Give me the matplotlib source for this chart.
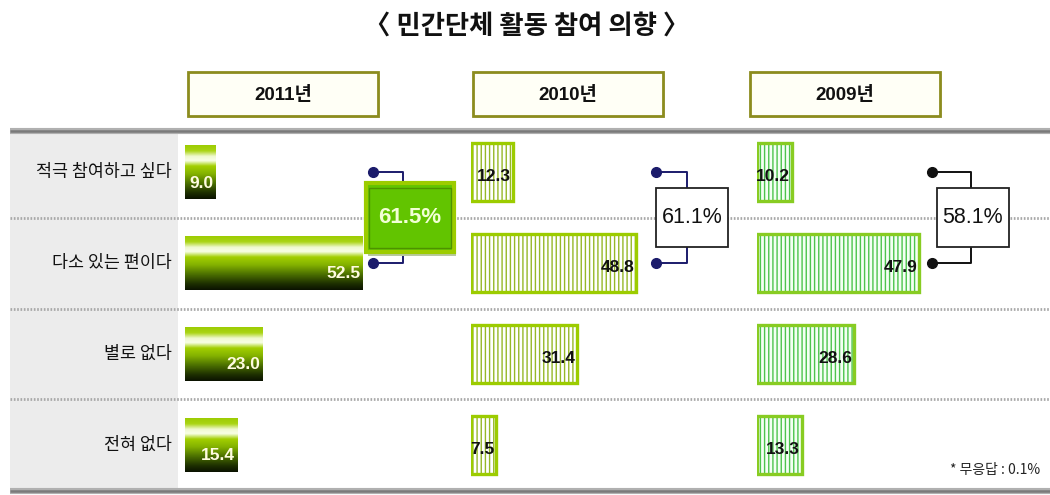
import matplotlib
matplotlib.use('Agg')
import matplotlib.pyplot as plt
import numpy as np
from matplotlib.patches import Rectangle
from matplotlib import transforms
from matplotlib.colors import LinearSegmentedColormap

# ---------------- data ----------------
categories = ['적극 참여하고 싶다', '다소 있는 편이다', '별로 없다', '전혀 없다']
years = ['2011년', '2010년', '2009년']
values_2011 = [9.0, 52.5, 23.0, 15.4]
values_2010 = [12.3, 48.8, 31.4, 7.5]
values_2009 = [10.2, 47.9, 28.6, 13.3]
positive_totals = [61.5, 61.1, 58.1]
title_text = '〈 민간단체 활동 참여 의향 〉'
footnote_text = '* 무응답 : 0.1%'

# ---------------- layout ----------------
W, H = 1050, 495
fig = plt.figure(figsize=(W / 100, H / 100), dpi=100)
fig.patch.set_facecolor('white')
plt.rcParams['hatch.linewidth'] = 1.0

KR = ['Noto Sans CJK KR', 'DejaVu Sans']
NUM = ['Liberation Sans', 'DejaVu Sans']
HDR = ['Liberation Sans', 'Noto Sans CJK KR', 'DejaVu Sans']

# background / decoration layer in pixel coordinates
bg = fig.add_axes([0, 0, 1, 1])
bg.set_xlim(0, W)
bg.set_ylim(H, 0)
bg.axis('off')
bg.add_patch(Rectangle((10, 133), 168, 357, facecolor='#ececec', edgecolor='none', zorder=0))
for yl in (130.5, 490.5):
    bg.plot([10, W], [yl, yl], color='#b0b0b0', lw=4.4, solid_capstyle='butt', zorder=5)
    bg.plot([10, W], [yl, yl], color='#7a7a7a', lw=1.8, solid_capstyle='butt', zorder=6)
bg.text(527, 26, title_text, ha='center', va='center', fontsize=19, fontweight='bold',
        family=KR, color='#111111')
bg.text(1040, 470, footnote_text, ha='right', va='center', fontsize=10, family=KR, color='#222222')

header_left = [188, 473, 750]
for hx, yr in zip(header_left, years):
    bg.add_patch(Rectangle((hx + 2, 74), 190, 44, facecolor='#e4e4d8', edgecolor='none', zorder=1))
    bg.add_patch(Rectangle((hx, 72), 190, 44, facecolor='#fffff6', edgecolor='#8c8c1e',
                           lw=2.0, zorder=2))
    bg.text(hx + 95, 95, yr, ha='center', va='center', fontsize=13.5, fontweight='bold',
            family=HDR, color='#111111', zorder=3)

# ---------------- data panels ----------------
scale = 3.39          # pixels per percent
panel_x0 = [185, 471, 757]
panel_w = 280
top_px, bot_px = 133, 490
ypos = np.arange(len(categories))

grad_cmap = LinearSegmentedColormap.from_list('g', [
    (0.0, '#9acb00'), (0.12, '#aad414'), (0.22, '#f0f9d0'), (0.30, '#f8ffe6'),
    (0.40, '#a2cf00'), (0.54, '#84b200'), (0.72, '#4a6e00'), (0.88, '#1f3200'), (1.0, '#0a1200')])
grad = grad_cmap(np.linspace(0, 1, 200))[:, :3].reshape(200, 1, 3)

series = [values_2011, values_2010, values_2009]
stripe_colors = [None, '#96b828', '#4cc44c']
border_colors = [None, '#9ccc00', '#88cc22']
fill_colors = [None, '#ffffff', '#f4fff4']
bracket_colors = ['#1b1b6b', '#1b1b6b', '#111111']
# bracket geometry in data units: dot x, vertical line x, box centre x, box width, box height
bracket_geom = [(55.5, 64.3, 66.4, 26.0, 0.76),
                (54.6, 63.7, 65.2, 21.2, 0.65),
                (51.6, 63.1, 63.7, 21.2, 0.65)]

axes = []
for i, vals in enumerate(series):
    ax = fig.add_axes([panel_x0[i] / W, 1 - bot_px / H, panel_w / W, (bot_px - top_px) / H])
    ax.set_xlim(0, panel_w / scale)
    ax.set_ylim(3.495, -0.43)
    ax.axis('off')
    axes.append(ax)

    if i == 0:
        bars = ax.barh(ypos, vals, height=0.6, color='none', edgecolor='none', zorder=3)
        for b in bars:
            x0b, y0b, wb, hb = b.get_x(), b.get_y(), b.get_width(), b.get_height()
            im = ax.imshow(grad, extent=(x0b, x0b + wb, y0b + hb, y0b), aspect='auto',
                           interpolation='bilinear', zorder=3)
            im.set_clip_path(b)
        for y, v in zip(ypos, vals):
            ax.text(v - 0.7, y + 0.12, f'{v:.1f}', ha='right', va='center', fontsize=12.5,
                    fontweight='bold', family=NUM, color='#fffce0', zorder=5)
    else:
        ax.barh(ypos, vals, height=0.64, facecolor=fill_colors[i], edgecolor=stripe_colors[i],
                hatch='||||', lw=0, zorder=3)
        ax.barh(ypos, vals, height=0.64, fill=False, edgecolor=border_colors[i], lw=2.4, zorder=4)
        for y, v in zip(ypos, vals):
            ax.text(v - 0.6, y + 0.05, f'{v:.1f}', ha='right', va='center', fontsize=12.5,
                    fontweight='bold', family=NUM, color='#111111', zorder=5)

    ax.set_xlim(0, panel_w / scale)
    ax.set_ylim(3.495, -0.43)

    # bracket connecting the first two rows with the positive total
    dx, vx, cx, bw, bh = bracket_geom[i]
    col = bracket_colors[i]
    btop, bbot = 0.5 - bh / 2, 0.5 + bh / 2
    ax.plot([dx, vx, vx], [ypos[0], ypos[0], btop], color=col, lw=1.4, zorder=6, clip_on=False)
    ax.plot([vx, vx, dx], [bbot, ypos[1], ypos[1]], color=col, lw=1.4, zorder=6, clip_on=False)
    ax.plot([dx, dx], [ypos[0], ypos[1]], ls='none', marker='o', ms=7, color=col, zorder=7,
            clip_on=False)
    if i == 0:
        ax.add_patch(Rectangle((cx - bw / 2 + 0.6, btop + 0.04), bw, bh, facecolor='#b8c8a0',
                               edgecolor='none', zorder=6, clip_on=False))
        ax.add_patch(Rectangle((cx - bw / 2, btop), bw, bh, facecolor='#62c400',
                               edgecolor='#9ccc00', lw=3.0, zorder=7, clip_on=False))
        ax.add_patch(Rectangle((cx - bw / 2 + 1.0, btop + 0.05), bw - 2.0, bh - 0.1,
                               facecolor='none', edgecolor='#4d9200', lw=1.0, zorder=8,
                               clip_on=False))
        ax.text(cx, 0.5, f'{positive_totals[i]:.1f}%', ha='center', va='center', fontsize=16,
                fontweight='bold', family=NUM, color='#f2ffd6', zorder=9)
    else:
        ax.add_patch(Rectangle((cx - bw / 2, btop), bw, bh, facecolor='white',
                               edgecolor='#222222', lw=1.3, zorder=7, clip_on=False))
        ax.text(cx, 0.5, f'{positive_totals[i]:.1f}%', ha='center', va='center', fontsize=15.5,
                family=NUM, color='#111111', zorder=9)

# row separators and category labels (shared y scale of the panels)
ax0 = axes[0]
blend = transforms.blended_transform_factory(fig.transFigure, ax0.transData)
for yb in (ypos[:-1] + 0.5):
    ax0.plot([10 / W, 1.0], [yb, yb], transform=blend, color='#a8a8a8', lw=2.0,
             ls=(0, (0.6, 0.6)), zorder=1, clip_on=False)
for y, c in zip(ypos, categories):
    ax0.text(172 / W, y, c, transform=blend, ha='right', va='center', fontsize=12.5,
             family=KR, color='#111111')

fig.savefig('out.png', dpi=100, facecolor='white')
